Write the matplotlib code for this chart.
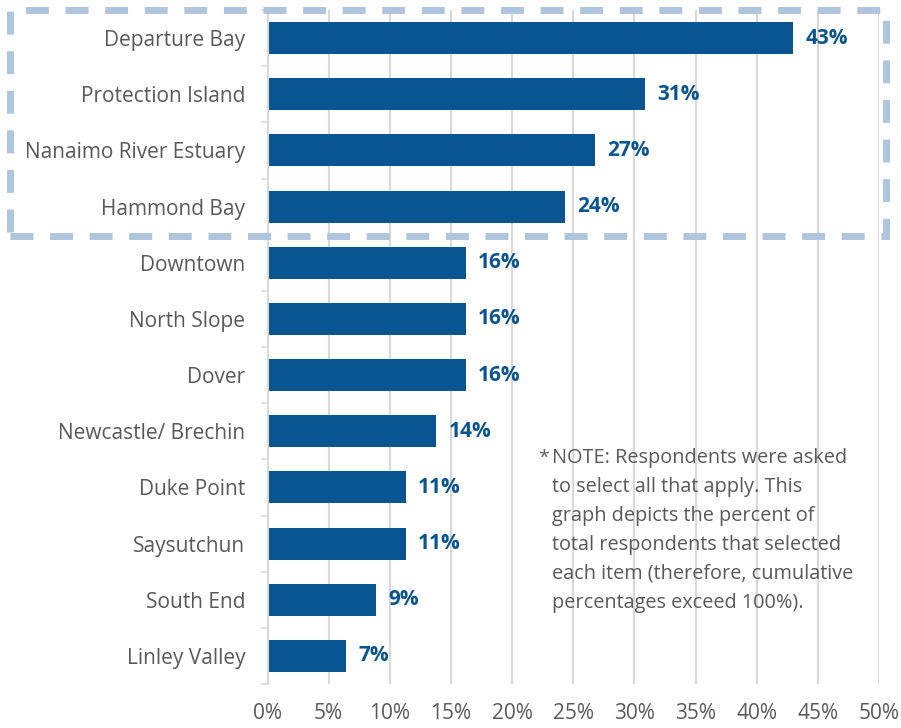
import numpy as np
import matplotlib.pyplot as plt
from matplotlib.patches import Rectangle

# Data (values are the bar lengths, labels are what is printed)
categories = ["Departure Bay", "Protection Island", "Nanaimo River Estuary", "Hammond Bay",
              "Downtown", "North Slope", "Dover", "Newcastle/ Brechin", "Duke Point",
              "Saysutchun", "South End", "Linley Valley"]
values = [43.0, 30.85, 26.8, 24.3, 16.2, 16.2, 16.2, 13.8, 11.3, 11.3, 8.9, 6.4]
value_labels = ["43%", "31%", "27%", "24%", "16%", "16%", "16%", "14%", "11%", "11%", "9%", "7%"]
x_ticks = [0, 5, 10, 15, 20, 25, 30, 35, 40, 45, 50]

note = ("NOTE: Respondents were asked\n"
        "to select all that apply. This\n"
        "graph depicts the percent of\n"
        "total respondents that selected\n"
        "each item (therefore, cumulative\n"
        "percentages exceed 100%).")

bar_color = '#0A5591'
grid_color = '#D9D9D9'
text_color = '#595959'
box_color = '#AFC4DD'

plt.rcParams['font.family'] = ['Open Sans', 'DejaVu Sans']

W, H = 901, 728
fig = plt.figure(figsize=(W / 100, H / 100), dpi=100)
ax = fig.add_axes([267.5 / W, 1 - 684 / H, (879 - 267.5) / W, (684 - 10) / H])

y = np.arange(len(categories))
ax.barh(y, values, height=0.57, color=bar_color, zorder=2)

for yi, v, lab in zip(y, values, value_labels):
    ax.text(v + 1.0, yi, lab, va='center', ha='left', fontsize=15,
            fontweight='bold', color=bar_color)

ax.set_xlim(0, 50)
ax.set_ylim(len(categories) - 0.5, -0.5)
ax.set_xticks(x_ticks)
ax.set_xticklabels([f"{t}%" for t in x_ticks])
ax.set_yticks(y)
ax.set_yticklabels(categories)
ax.set_yticks(np.arange(-0.5, len(categories)), minor=True)

ax.tick_params(axis='x', length=0, pad=14, labelsize=15, labelcolor=text_color)
ax.tick_params(axis='y', which='major', length=0, pad=16, labelsize=15, labelcolor=text_color)
ax.tick_params(axis='y', which='minor', length=5, width=1.2, color=grid_color, direction='out')

ax.grid(axis='x', color=grid_color, linewidth=1.5, zorder=0)
ax.set_axisbelow(True)
for side in ['top', 'right', 'bottom']:
    ax.spines[side].set_visible(False)
ax.spines['left'].set_color(grid_color)
ax.spines['left'].set_linewidth(1.5)

# note text
fig.text(538 / W, 1 - 458 / H, "*", fontsize=14, color=text_color, va='center', ha='left')
fig.text(552 / W, 1 - 448 / H, note, fontsize=14.3, color=text_color, va='top', ha='left',
         linespacing=1.6)

# dashed highlight box around the top four items
box = Rectangle((10 / W, 1 - 236 / H), (886 - 10) / W, (236 - 10) / H,
                transform=fig.transFigure, fill=False, edgecolor=box_color,
                linewidth=5, linestyle=(0, (3.3, 2.4)), capstyle='butt',
                joinstyle='miter', zorder=5)
fig.patches.append(box)

fig.savefig('out.png', dpi=100)
